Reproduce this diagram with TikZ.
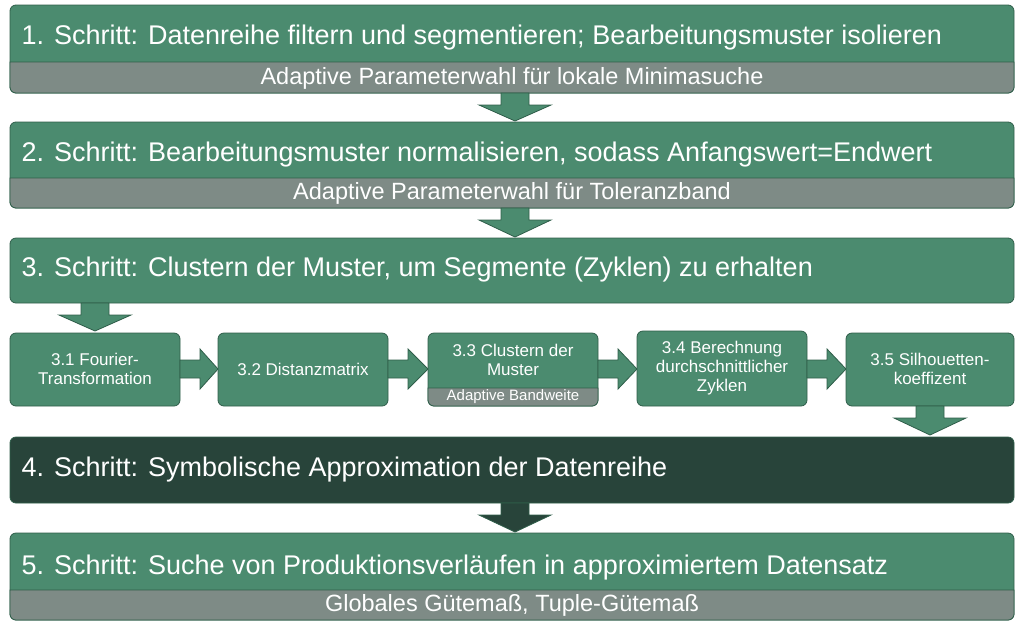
\documentclass[tikz,border=0pt]{standalone}
\usepackage{fontspec}
\setmainfont{Liberation Sans}
\definecolor{gr}{HTML}{4B8B6F}
\definecolor{gy}{HTML}{7E8B86}
\definecolor{bd}{HTML}{2F5E4A}
\definecolor{dk}{HTML}{28443A}
\tikzset{
  box/.style={fill=gr,draw=bd,line width=0.8pt,rounded corners=6pt},
  dbox/.style={fill=dk,draw=bd,line width=0.8pt,rounded corners=6pt},
  bar/.style={fill=gy,draw=bd,line width=0.8pt},
  barrow/.style={fill=gr,draw=bd,line width=0.8pt},
  dkarrow/.style={fill=dk,draw=bd,line width=0.8pt},
  title/.style={text=white,anchor=west,font=\fontsize{27}{31}\selectfont},
  sub/.style={text=white,font=\fontsize{23.5}{27}\selectfont},
  small/.style={text=white,align=center,font=\fontsize{17}{19}\selectfont},
}
\newcommand{\darr}[4][barrow]{\draw[#1] (#2-14,#3) -- (#2+14,#3) -- (#2+14,#3+12) -- (#2+36,#3+12) -- (#2,#4) -- (#2-36,#3+12) -- (#2-14,#3+12) -- cycle;}
\newcommand{\harr}[3]{\draw[barrow] (#1,#3-9) -- (#1+20,#3-9) -- (#1+20,#3-20) -- (#2,#3) -- (#1+20,#3+20) -- (#1+20,#3+9) -- (#1,#3+9) -- cycle;}
\newcommand{\gbox}[6]{% x1 y1 x2 ybar y2 style
  \draw[box] (#1,#2) rectangle (#3,#5);
  \draw[bar] (#1,#4) -- (#3,#4) {[rounded corners=6pt] -- (#3,#5) -- (#1,#5)} -- cycle;}
\begin{document}
\begin{tikzpicture}[x=1pt,y=-1pt]
\useasboundingbox (0,0) rectangle (1024,630);
% step 1
\gbox{10}{5}{1014}{62}{93}{}
\node[title] (t1) at (18,38) {1. Schritt: Datenreihe filtern und segmentieren; Bearbeitungsmuster isolieren};
\node[sub] (s1) at (512,78) {Adaptive Parameterwahl für lokale Minimasuche};
\darr{515}{93}{121}
% step 2
\gbox{10}{122}{1014}{178}{208}{}
\node[title] (t2) at (18,155) {2. Schritt: Bearbeitungsmuster normalisieren, sodass Anfangswert=Endwert};
\node[sub] (s2) at (512,193) {Adaptive Parameterwahl für Toleranzband};
\darr{515}{208}{237}
% step 3
\draw[box] (10,238) rectangle (1014,303);
\node[title] (t3) at (18,270) {3. Schritt: Clustern der Muster, um Segmente (Zyklen) zu erhalten};
\darr{95}{303}{331}
% substeps
\draw[box] (10,333) rectangle (180,406);
\node[small] (a1) at (95,369) {3.1 Fourier-\\Transformation};
\harr{180}{218}{369}
\draw[box] (218,333) rectangle (388,406);
\node[small] (a2) at (303,369) {3.2 Distanzmatrix};
\harr{388}{428}{369}
\gbox{428}{333}{598}{388}{406}{}
\node[small] (a3) at (513,360) {3.3 Clustern der\\Muster};
\node[text=white,font=\fontsize{15}{17}\selectfont] (a3b) at (513,397) {Adaptive Bandweite};
\harr{598}{637}{369}
\draw[box] (637,331) rectangle (807,406);
\node[small] (a4) at (722,368) {3.4 Berechnung\\durchschnittlicher\\Zyklen};
\harr{807}{846}{369}
\draw[box] (846,333) rectangle (1014,406);
\node[small] (a5) at (930,369) {3.5 Silhouetten-\\koeffizent};
\darr{930}{406}{435}
% step 4
\draw[dbox] (10,437) rectangle (1014,503);
\node[title] (t4) at (18,470) {4. Schritt: Symbolische Approximation der Datenreihe};
\darr[dkarrow]{515}{503}{532}
% step 5
\gbox{10}{533}{1014}{590}{620}{}
\node[title] (t5) at (18,568) {5. Schritt: Suche von Produktionsverläufen in approximiertem Datensatz};
\node[sub] (s5) at (512,605) {Globales Gütemaß, Tuple-Gütemaß};
\end{tikzpicture}
\end{document}
